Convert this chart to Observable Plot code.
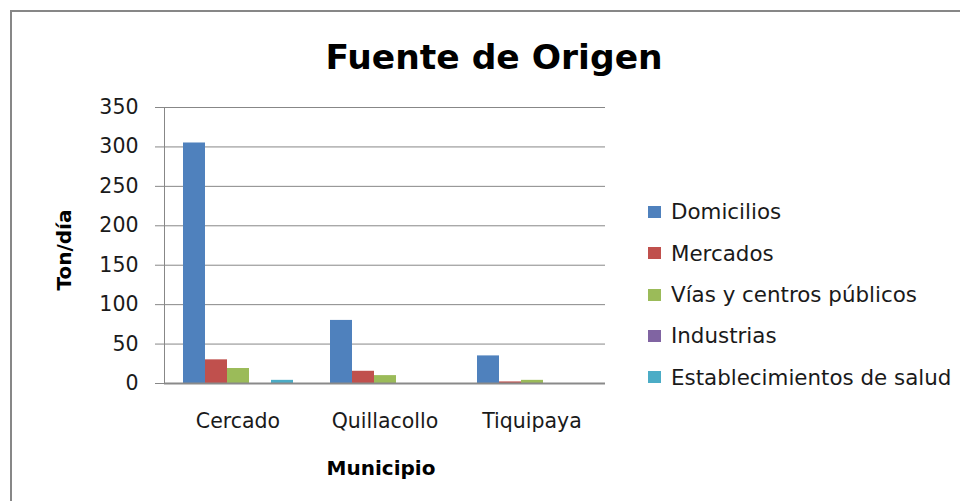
<!DOCTYPE html>
<html>
<head>
<meta charset="utf-8">
<script src="https://cdn.jsdelivr.net/npm/d3@7"></script>
<script src="https://cdn.jsdelivr.net/npm/@observablehq/plot@0.6"></script>
<style>
  html, body { margin: 0; padding: 0; background: #fff; overflow: hidden; }
  #wrap { position: relative; width: 960px; height: 501px; overflow: hidden; font-family: "DejaVu Sans", sans-serif; color: #1a1a1a; }
  #border { position: absolute; left: 10px; top: 10px; width: 1200px; height: 800px; border-left: 2px solid #878787; border-top: 2px solid #878787; }
  #chart { position: absolute; left: 0; top: 0; }
  #title { position: absolute; left: 494px; top: 39.5px; transform: translateX(-50%); font-size: 34.5px; font-weight: bold; line-height: 34px; white-space: nowrap; color: #000; }
  #xlabel { position: absolute; left: 381px; top: 458px; transform: translateX(-50%); font-size: 20px; font-weight: bold; line-height: 20px; white-space: nowrap; color: #000; }
  #ylabel { position: absolute; left: 63.5px; top: 250px; width: 0; height: 0; }
  #ylabel span { position: absolute; left: 0; top: 0; transform: translate(-50%, -50%) rotate(-90deg); font-size: 20px; font-weight: bold; line-height: 20px; white-space: nowrap; color: #000; }
  #legend { position: absolute; left: 648px; top: 191.4px; font-size: 21.4px; }
  #legend .item { height: 41.3px; line-height: 41.3px; white-space: nowrap; display: flex; align-items: center; color: #1a1a1a; }
  #legend .sw { width: 13px; height: 12px; margin-right: 10px; flex: none; }
</style>
</head>
<body>
<div id="wrap">
  <div id="border"></div>
  <div id="chart"></div>
  <div id="title"></div>
  <div id="xlabel"></div>
  <div id="ylabel"><span></span></div>
  <div id="legend"></div>
</div>
<script>
const titleText = "Fuente de Origen";
const xTitle = "Municipio";
const yTitle = "Ton/día";

const municipios = ["Cercado", "Quillacollo", "Tiquipaya"];
const fuentes = ["Domicilios", "Mercados", "Vías y centros públicos", "Industrias", "Establecimientos de salud"];
const colores = ["#4F81BD", "#C0504D", "#9BBB59", "#8064A2", "#4BACC6"];

const domicilios = [305, 80, 35];
const mercados = [30, 15.5, 2];
const vias = [19, 10, 4];
const industrias = [0, 0, 0];
const salud = [4, 0, 0];

const yTicks = [0, 50, 100, 150, 200, 250, 300, 350];

const seriesValues = [domicilios, mercados, vias, industrias, salud];
const data = [];
municipios.forEach((m, i) => {
  fuentes.forEach((f, j) => {
    data.push({municipio: m, fuente: f, valor: seriesValues[j][i]});
  });
});

const chart = Plot.plot({
  width: 960,
  height: 501,
  marginLeft: 164,
  marginRight: 355,
  marginTop: 107,
  marginBottom: 118,
  style: {fontFamily: "DejaVu Sans, sans-serif", fontSize: "20px", color: "#1a1a1a", background: "transparent", overflow: "visible"},
  fx: {domain: municipios, padding: 0, label: null},
  x: {domain: fuentes, paddingInner: 0, paddingOuter: 0.7, axis: null},
  y: {domain: [0, 350], label: null},
  color: {domain: fuentes, range: colores},
  marks: [
    Plot.gridY(yTicks, {stroke: "#878787", strokeOpacity: 1, strokeWidth: 1}),
    Plot.barY(data, {fx: "municipio", x: "fuente", y: "valor", fill: "fuente"}),
    Plot.ruleY([0], {stroke: "#8a8a8a", strokeWidth: 2}),
    Plot.frame({anchor: "left", stroke: "#878787", strokeWidth: 1, fx: () => municipios[0]}),
    Plot.axisY(yTicks, {tickSize: 9, tickPadding: 17, stroke: "#878787", strokeOpacity: 1, fill: "#1a1a1a", fontSize: 20.5, label: null}),
    Plot.axisFx({anchor: "bottom", tickSize: 0, tickPadding: 30, fontSize: 20.5, fill: "#1a1a1a", label: null})
  ]
});
document.getElementById("chart").appendChild(chart);

document.getElementById("title").textContent = titleText;
document.getElementById("xlabel").textContent = xTitle;
document.querySelector("#ylabel span").textContent = yTitle;

const legend = document.getElementById("legend");
fuentes.forEach((f, j) => {
  const item = document.createElement("div");
  item.className = "item";
  const sw = document.createElement("span");
  sw.className = "sw";
  sw.style.background = colores[j];
  const t = document.createElement("span");
  t.textContent = f;
  item.appendChild(sw);
  item.appendChild(t);
  legend.appendChild(item);
});
</script>
</body>
</html>
